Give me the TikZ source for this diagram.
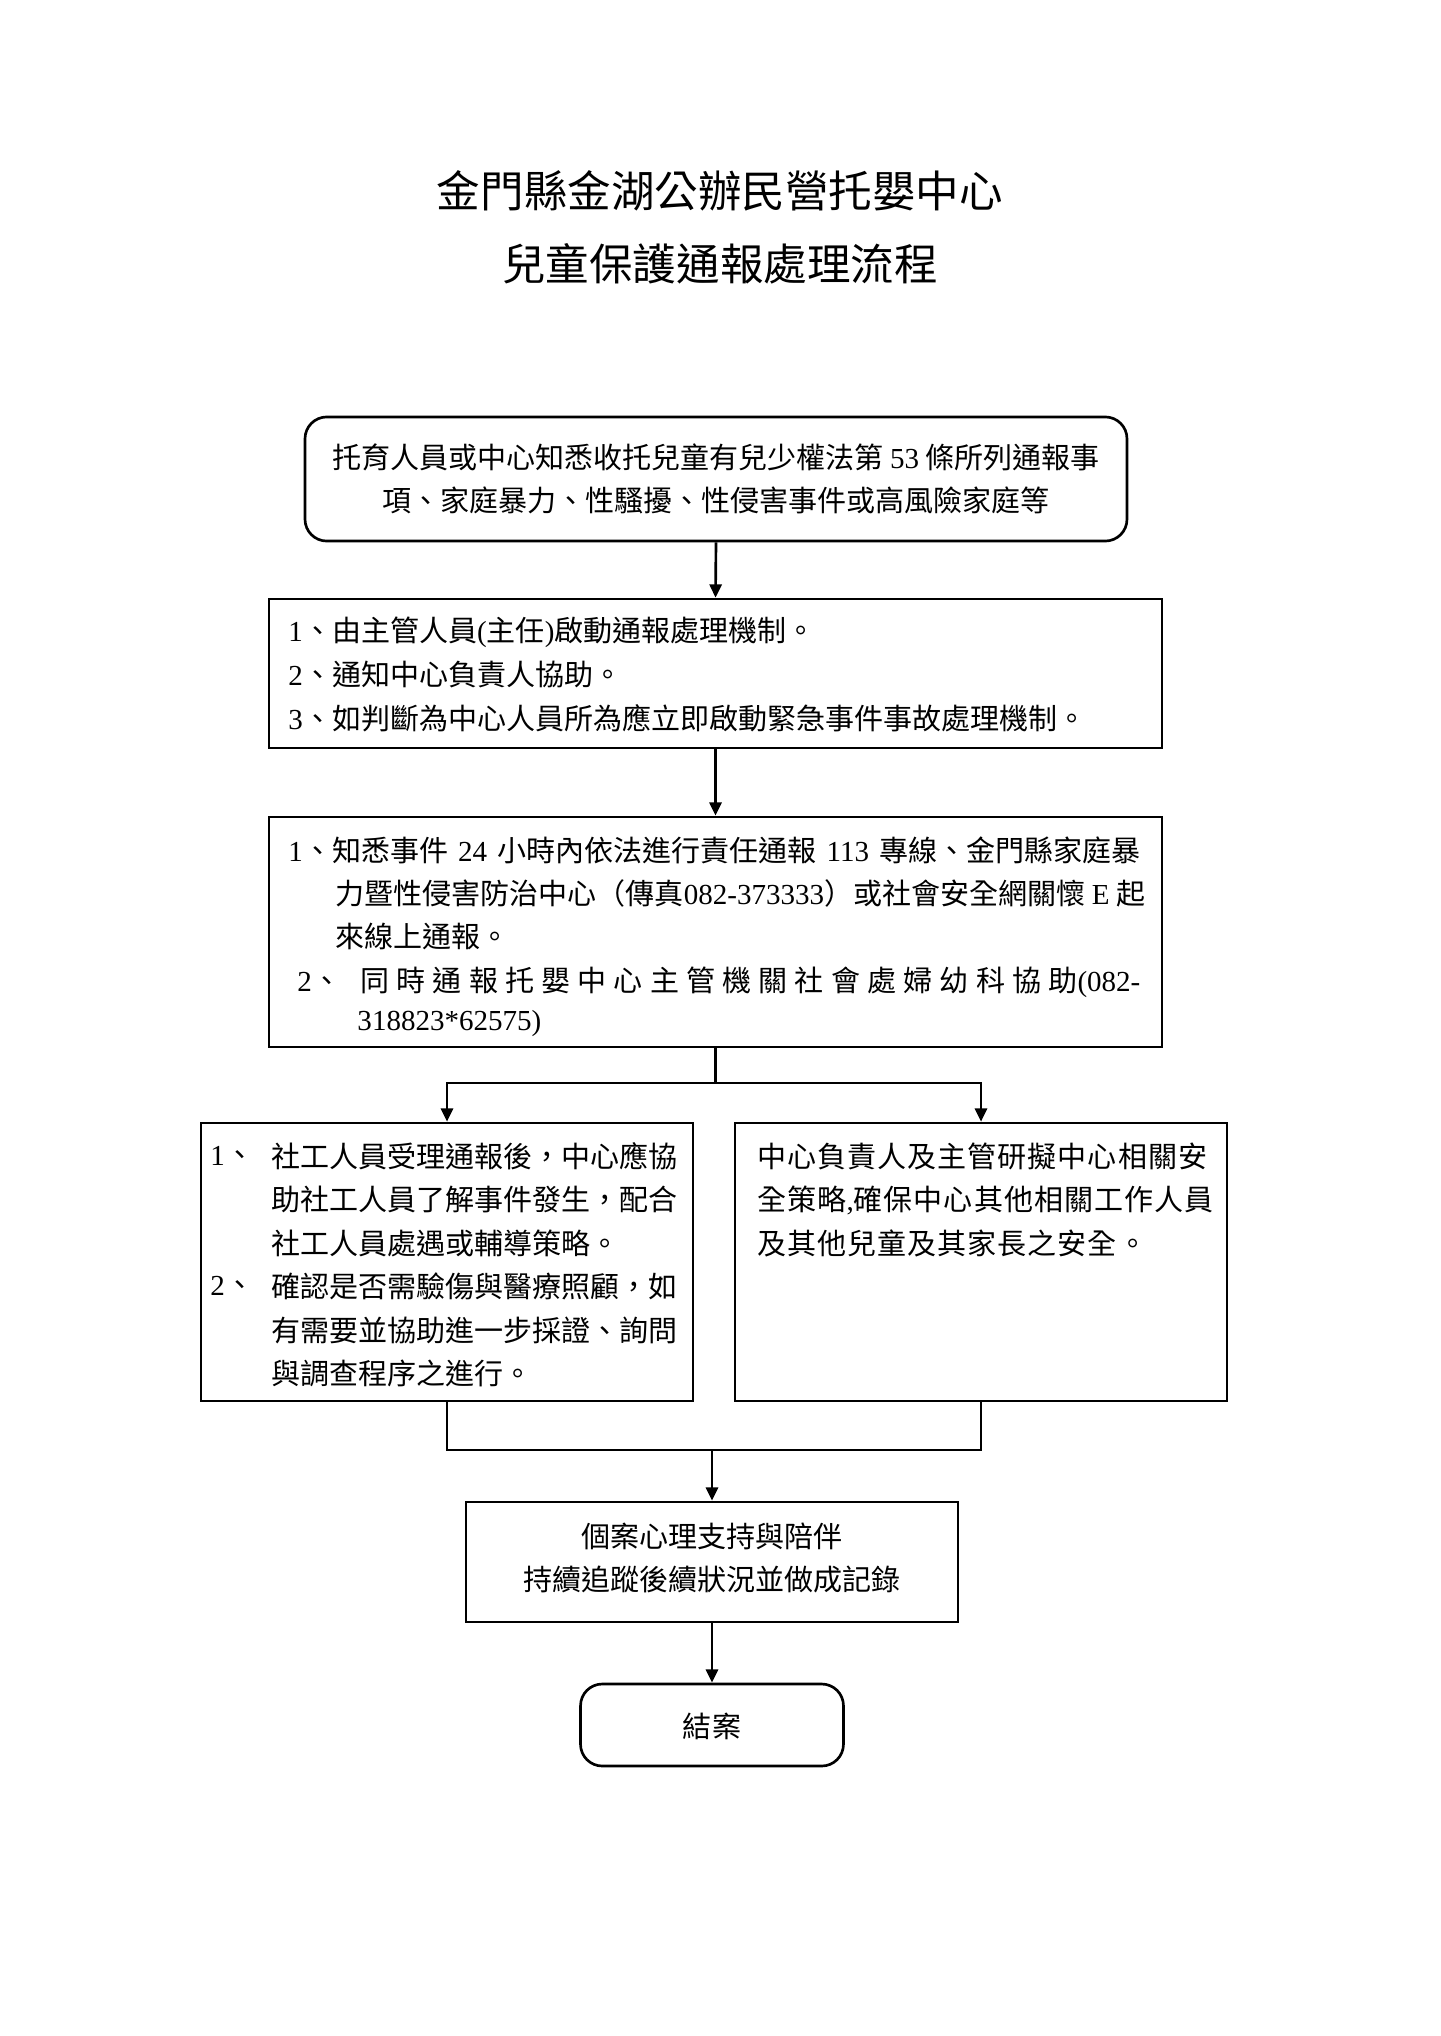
\documentclass[tikz,border=0pt]{standalone}
\usepackage{fontspec}
\setmainfont{Noto Sans CJK TC}
\newfontfamily\lat{Liberation Serif}
\usetikzlibrary{arrows.meta}
\begin{document}
\begin{tikzpicture}[x=0.41339pt,y=-0.41339pt,
 box/.style={draw,line width=1.1pt,inner sep=0pt},
 rbox/.style={box,rounded corners=9pt},
 txt/.style={inner sep=0pt,font=\fontsize{12}{14}\selectfont},
 wtxt/.style={txt,font=\fontsize{12}{14}\selectfont\addfontfeature{LetterSpace=3.5}},
 ttl/.style={inner sep=0pt,font=\fontsize{18}{22}\selectfont},
 arr/.style={line width=1.1pt,-{Triangle[length=5.5pt,width=5pt]}},
 ln/.style={line width=1.1pt}]
\useasboundingbox (0,0) rectangle (1440,2036);
% titles
\node[ttl] (title1) at (720,191) {金門縣金湖公辦民營托嬰中心};
\node[ttl] (title2) at (720,264) {兒童保護通報處理流程};
% boxes
\node[rbox,minimum width=339.8pt,minimum height=51.3pt] (b1) at (716,479) {};
\node[box,minimum width=369.2pt,minimum height=61.6pt] (b2) at (715.5,673.5) {};
\node[box,minimum width=369.2pt,minimum height=95.1pt] (b3) at (715.5,932) {};
\node[box,minimum width=203.4pt,minimum height=114.9pt] (b4) at (447,1262) {};
\node[box,minimum width=203.4pt,minimum height=114.9pt] (b5) at (981,1262) {};
\node[box,minimum width=203.4pt,minimum height=49.6pt] (b6) at (712,1562) {};
\node[rbox,minimum width=108.7pt,minimum height=33.9pt] (b7) at (712,1725) {};
% box 1 text
\node[txt] (t1a) at (716,457) {托育人員或中心知悉收托兒童有兒少權法第 {\lat 53} 條所列通報事};
\node[txt] (t1b) at (716,500) {項、家庭暴力、性騷擾、性侵害事件或高風險家庭等};
% box 2 text
\node[txt,anchor=west] (t2a) at (288,632) {{\lat 1}、由主管人員{\lat (}主任{\lat )}啟動通報處理機制。};
\node[txt,anchor=west] (t2b) at (288,675) {{\lat 2}、通知中心負責人協助。};
\node[txt,anchor=west] (t2c) at (288,718) {{\lat 3}、如判斷為中心人員所為應立即啟動緊急事件事故處理機制。};
% box 3 text
\node[txt,anchor=west] (t3a) at (288,850) {\makebox[352.2pt][s]{{\lat 1}、知悉事件 {\lat 24} 小時內依法進行責任通報 {\lat 113} 專線、金門縣家庭暴}};
\node[txt,anchor=west] (t3b) at (335,893) {力暨性侵害防治中心（傳真{\lat 082-373333}）或社會安全網關懷 {\lat E} 起};
\node[txt,anchor=west] (t3c) at (335,936) {來線上通報。};
\node[txt,anchor=west] (t3d) at (297,982) {{\lat 2}、};
\node[txt,anchor=west] (t3e) at (360,982) {\makebox[322.4pt]{同\hfill 時\hfill 通\hfill 報\hfill 托\hfill 嬰\hfill 中\hfill 心\hfill 主\hfill 管\hfill 機\hfill 關\hfill 社\hfill 會\hfill 處\hfill 婦\hfill 幼\hfill 科\hfill 協\hfill 助{\lat (082-}}};
\node[txt,anchor=west] (t3f) at (357,1024) {{\lat 318823*62575)}};
% box 4 text
\node[txt,anchor=west] (t4n1) at (210,1156) {{\lat 1}、};
\node[txt,anchor=west] (t4a) at (271,1156) {社工人員受理通報後，中心應協};
\node[txt,anchor=west] (t4b) at (271,1199) {助社工人員了解事件發生，配合};
\node[txt,anchor=west] (t4c) at (271,1243) {社工人員處遇或輔導策略。};
\node[txt,anchor=west] (t4n2) at (210,1286) {{\lat 2}、};
\node[txt,anchor=west] (t4d) at (271,1286) {確認是否需驗傷與醫療照顧，如};
\node[txt,anchor=west] (t4e) at (271,1330) {有需要並協助進一步採證、詢問};
\node[txt,anchor=west] (t4f) at (271,1373) {與調查程序之進行。};
% box 5 text
\node[wtxt,anchor=west] (t5a) at (757,1156) {中心負責人及主管研擬中心相關安};
\node[wtxt,anchor=west] (t5b) at (757,1200) {全策略{\lat ,}確保中心其他相關工作人員};
\node[wtxt,anchor=west] (t5c) at (757,1243) {及其他兒童及其家長之安全。};
% box 6 and 7 text
\node[txt] (t6a) at (712,1536) {個案心理支持與陪伴};
\node[txt] (t6b) at (712,1579) {持續追蹤後續狀況並做成記錄};
\node[txt] (t7) at (712,1726) {結案};
% connectors
\coordinate (split) at (715.5,1083);
\coordinate (join) at (712,1450);
\draw[arr] (b1.south) -- (b2.north);
\draw[arr] (b2.south) -- (b3.north);
\draw[ln] (b3.south) -- (split);
\draw[arr] (split) -| (b4.north);
\draw[arr] (split) -| (b5.north);
\draw[ln] (b4.south) |- (join);
\draw[ln] (b5.south) |- (join);
\draw[arr] (join) -- (b6.north);
\draw[arr] (b6.south) -- (b7.north);
\end{tikzpicture}
\end{document}
